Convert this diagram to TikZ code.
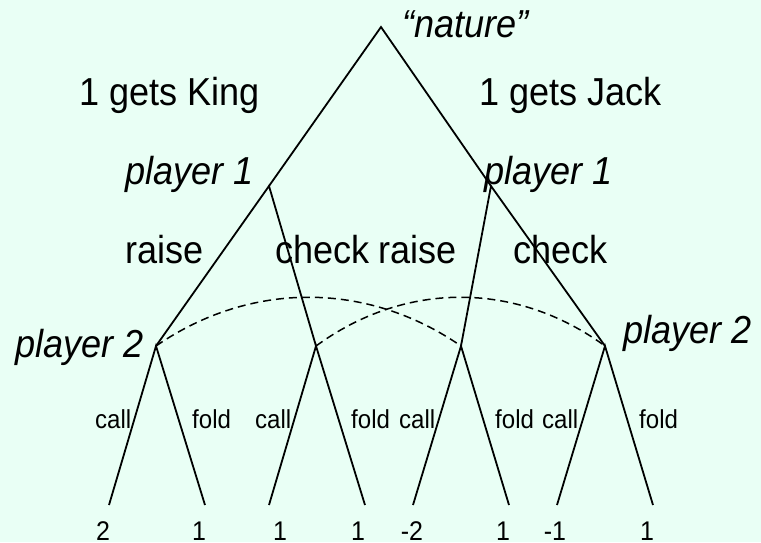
\documentclass[tikz,border=0pt]{standalone}
\usepackage{fontspec}
\setmainfont{Liberation Sans}
\newfontfamily\tallfont[FakeStretch=0.925]{Liberation Sans}
\definecolor{bgmint}{RGB}{233,255,245}
\tikzset{
  edge/.style={draw=black, line width=1.8pt},
  infoset/.style={draw=black, line width=1.5pt, dash pattern=on 8pt off 5pt},
  big/.style={inner sep=0pt, font=\tallfont\fontsize{39}{42}\selectfont, anchor=base west},
  bigit/.style={big, font=\tallfont\fontsize{39}{42}\selectfont\itshape},
  small/.style={inner sep=0pt, font=\tallfont\fontsize{26}{30}\selectfont, anchor=base west},
  payoff/.style={inner sep=0pt, font=\tallfont\fontsize{27}{30}\selectfont, anchor=base},
}
\begin{document}
\begin{tikzpicture}[x=1pt,y=-1pt]
\fill[bgmint] (0,0) rectangle (761,542);
\useasboundingbox (0,0) rectangle (761,542);
% decision points
\coordinate (root) at (381,27);
\coordinate (p1K) at (269,186);
\coordinate (p1J) at (491,186);
\coordinate (p2a) at (156,346);
\coordinate (p2b) at (316,346);
\coordinate (p2c) at (461,346);
\coordinate (p2d) at (605,346);
\coordinate (l1) at (109,505);
\coordinate (l2) at (205,505);
\coordinate (l3) at (269,505);
\coordinate (l4) at (365,505);
\coordinate (l5) at (413,505);
\coordinate (l6) at (509,505);
\coordinate (l7) at (557,505);
\coordinate (l8) at (653,505);
% tree edges
\draw[edge] (p1K) -- (root) -- (p1J);
\draw[edge] (p2a) -- (p1K) -- (p2b);
\draw[edge] (p2c) -- (p1J) -- (p2d);
\draw[edge] (l1) -- (p2a) -- (l2);
\draw[edge] (l3) -- (p2b) -- (l4);
\draw[edge] (l5) -- (p2c) -- (l6);
\draw[edge] (l7) -- (p2d) -- (l8);
% information sets
\draw[infoset] (p2a) .. controls (250,281) and (367,281) .. (p2c);
\draw[infoset] (p2b) .. controls (405,281) and (516,281) .. (p2d);
% labels
\node[bigit] (tnature) at (402,37) {“nature”};
\node[big] (tking) at (79,105) {1 gets King};
\node[big] (tjack) at (479,105) {1 gets Jack};
\node[bigit] (tp1K) at (125,184) {player 1};
\node[bigit] (tp1J) at (484,184) {player 1};
\node[big] (traiseK) at (125,263) {raise};
\node[big] (tcheckK) at (275,263) {check};
\node[big] (traiseJ) at (378,263) {raise};
\node[big] (tcheckJ) at (513,263) {check};
\node[bigit] (tp2a) at (15,357) {player 2};
\node[bigit] (tp2d) at (623,343) {player 2};
\node[small] (c1) at (95,428) {call};
\node[small] (f1) at (192,428) {fold};
\node[small] (c2) at (255,428) {call};
\node[small] (f2) at (351,428) {fold};
\node[small] (c3) at (399,428) {call};
\node[small] (f3) at (495,428) {fold};
\node[small] (c4) at (542,428) {call};
\node[small] (f4) at (639,428) {fold};
\node[payoff] (v1) at (103,540) {2};
\node[payoff] (v2) at (199,540) {1};
\node[payoff] (v3) at (280,540) {1};
\node[payoff] (v4) at (358,540) {1};
\node[payoff] (v5) at (412,540) {-2};
\node[payoff] (v6) at (503,540) {1};
\node[payoff] (v7) at (555,540) {-1};
\node[payoff] (v8) at (647,540) {1};
\end{tikzpicture}
\end{document}
